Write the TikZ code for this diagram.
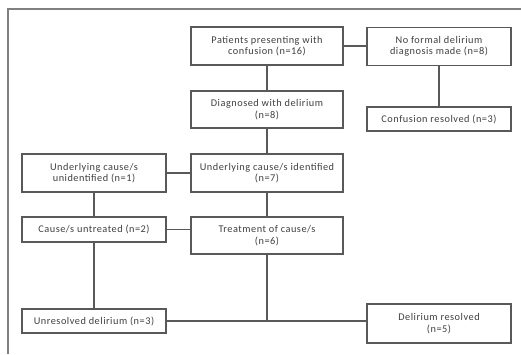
\documentclass[tikz,border=0pt]{standalone}
\usepackage{fontspec}
\setmainfont{Carlito}[LetterSpace=5]
\begin{document}
\begin{tikzpicture}[x=1pt,y=-1pt,
  box/.style={draw=black!65,line width=1.2pt,fill=white,minimum height=#1,
    align=center,text=black!75,font=\fontsize{10.3}{11.5}\selectfont,inner sep=2pt},
  box/.default=24pt,
  link/.style={draw=black!65,line width=1.2pt},
  frame/.style={draw=black!50,line width=1.5pt}]
\useasboundingbox (0,0) rectangle (521,354);
\draw[frame] (8,354) -- (8,9) -- (521,9);
% nodes (centre, width)
\node[box=38pt,minimum width=152pt] (pat) at (267,46) {Patients presenting with\\confusion (n=16)};
\node[box=38pt,minimum width=144pt] (nof) at (439,46.5) {No formal delirium\\diagnosis made (n=8)};
\node[box=37pt,minimum width=152pt] (dia) at (267,109.5) {Diagnosed with delirium\\(n=8)};
\node[box=24pt,minimum width=144pt] (cre) at (439,119) {Confusion resolved (n=3)};
\node[box=38pt,minimum width=152pt] (uid) at (267,173) {Underlying cause/s identified\\(n=7)};
\node[box=38pt,minimum width=144pt] (uun) at (94,173) {Underlying cause/s\\unidentified (n=1)};
\node[box=25pt,minimum width=144pt] (unt) at (94,229.5) {Cause/s untreated (n=2)};
\node[box=37pt,minimum width=152pt] (tre) at (267,235.5) {Treatment of cause/s\\(n=6)};
\node[box=24pt,minimum width=144pt] (unr) at (94,321) {Unresolved delirium (n=3)};
\node[box=39pt,minimum width=144pt] (dre) at (439,323.5) {Delirium resolved\\(n=5)};
\coordinate (j) at (tre.south |- unr.east);
% connectors
\draw[link] (pat.east) -- (nof.west |- pat.east);
\draw[link] (pat) -- (dia);
\draw[link] (nof) -- (cre);
\draw[link] (dia) -- (uid);
\draw[link] (uun.east) -- (uid.west |- uun.east);
\draw[link] (uun) -- (unt);
\draw[link] (uid) -- (tre);
\draw[link] (unt.east) -- (tre.west |- unt.east);
\draw[link] (unt) -- (unr);
\draw[link] (tre.south) -- (j);
\draw[link] (unr.east) -- (dre.west |- unr.east);
\end{tikzpicture}
\end{document}
